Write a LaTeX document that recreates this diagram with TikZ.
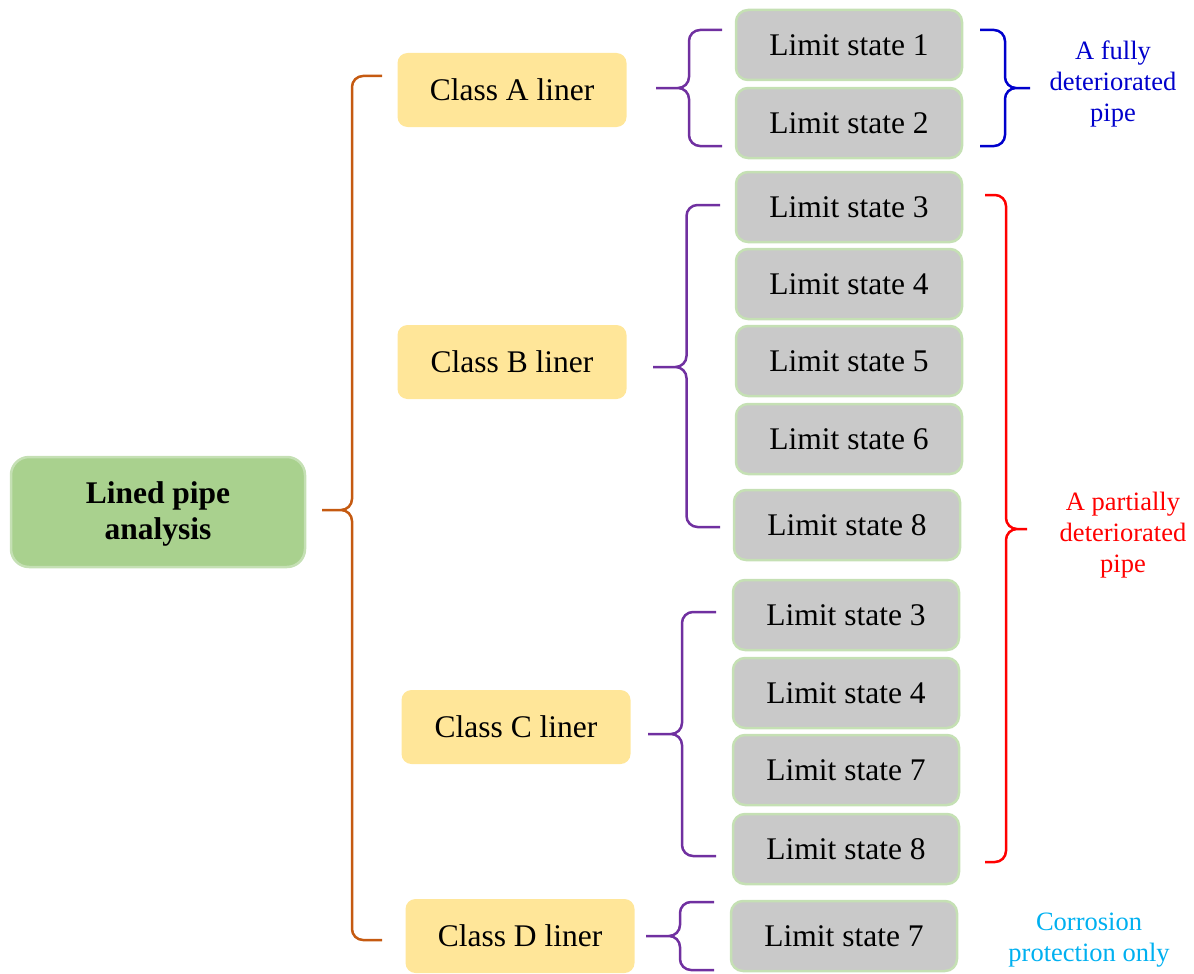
\documentclass[tikz,border=0pt]{standalone}
\usepackage{fontspec}
\setmainfont{Liberation Serif}
\usetikzlibrary{calc}
\definecolor{RootGreen}{HTML}{A9D18E}
\definecolor{LeafGreen}{HTML}{C5E0B4}
\definecolor{ClassGold}{HTML}{FFE699}
\definecolor{StateGray}{HTML}{C9C9C9}
\definecolor{BraceOrange}{HTML}{C55A11}
\definecolor{BracePurple}{HTML}{7030A0}
\definecolor{NoteBlue}{HTML}{0000CC}
\definecolor{NoteRed}{HTML}{FF0000}
\definecolor{NoteCyan}{HTML}{00B0F0}
% brace: tip, upper end, lower end
\def\wordbrace[#1](#2)(#3)(#4){\draw[#1] let \p1=(#2),\p2=(#3),\p3=(#4) in (\p2) -- ({(\x1+\x2)/2},\y2) -- ({(\x1+\x2)/2},\y1) -- (\p1) (\p3) -- ({(\x1+\x2)/2},\y3) -- ({(\x1+\x2)/2},\y1) -- (\p1);}
\tikzset{
  rootbox/.style={draw=LeafGreen, line width=2.5pt, fill=RootGreen, rounded corners=18pt, minimum width=294pt, minimum height=110pt, align=center, font=\bfseries\fontsize{31.5}{36}\selectfont},
  classbox/.style={fill=ClassGold, rounded corners=10pt, minimum width=229pt, minimum height=74pt, font=\fontsize{31.5}{36}\selectfont},
  statebox/.style={draw=LeafGreen, line width=2.5pt, fill=StateGray, rounded corners=12pt, minimum width=226pt, minimum height=70pt, font=\fontsize{31.5}{36}\selectfont},
  notetext/.style={align=center, font=\fontsize{26.5}{31}\selectfont},
  bracestyle/.style={line width=2.5pt, rounded corners=11pt}
}
\begin{document}
\begin{tikzpicture}[x=1pt,y=-1pt]
			%%%%% START %%%%%
			\useasboundingbox (0,0) rectangle (1194,974);
			
			\node[rootbox] (root) at (158, 512) {};
			\node[font=\bfseries\fontsize{31.5}{36}\selectfont, align=center] (rootText) at (158, 514) {Lined pipe\\analysis};
			
			\node[classbox] (clsA) at (512, 90) {Class A liner};
			\node[classbox] (clsB) at (512, 362) {Class B liner};
			\node[classbox] (clsC) at (516, 727) {Class C liner};
			\node[classbox] (clsD) at (520, 936) {Class D liner};
			
			\node[statebox] (lsA1) at (849, 45) {Limit state 1};
			\node[statebox] (lsA2) at (849, 123) {Limit state 2};
			
			\node[statebox] (lsB3) at (849, 207) {Limit state 3};
			\node[statebox] (lsB4) at (849, 284) {Limit state 4};
			\node[statebox] (lsB5) at (849, 361) {Limit state 5};
			\node[statebox] (lsB6) at (849, 439) {Limit state 6};
			\node[statebox] (lsB8) at (847, 525) {Limit state 8};
			
			\node[statebox] (lsC3) at (846, 615) {Limit state 3};
			\node[statebox] (lsC4) at (846, 693) {Limit state 4};
			\node[statebox] (lsC7) at (846, 770) {Limit state 7};
			\node[statebox] (lsC8) at (846, 849) {Limit state 8};
			
			\node[statebox] (lsD7) at (844, 936) {Limit state 7};
			
			\node[notetext, text=NoteBlue] (noteFull) at (1113, 84) {A fully\\deteriorated\\pipe};
			\node[notetext, text=NoteRed] (notePart) at (1123, 535) {A partially\\deteriorated\\pipe};
			\node[notetext, text=NoteCyan] (noteCorr) at (1089, 940) {Corrosion\\protection only};
			
			% brace ends
			\coordinate (rootTip) at (322, 510);
			\coordinate (rootTop) at (382, 76);
			\coordinate (rootBot) at (382, 940);
			
			\coordinate (aTip) at (656, 88);
			\coordinate (aTop) at (722, 30);
			\coordinate (aBot) at (722, 146);
			
			\coordinate (bTip) at (653, 367);
			\coordinate (bTop) at (720, 205);
			\coordinate (bBot) at (720, 527);
			
			\coordinate (cTip) at (648, 734);
			\coordinate (cTop) at (716, 612);
			\coordinate (cBot) at (716, 856);
			
			\coordinate (dTip) at (646, 936);
			\coordinate (dTop) at (714, 902);
			\coordinate (dBot) at (714, 970);
			
			\coordinate (fullTip) at (1030, 88);
			\coordinate (fullTop) at (980, 30);
			\coordinate (fullBot) at (980, 146);
			
			\coordinate (partTip) at (1027, 529);
			\coordinate (partTop) at (985, 195);
			\coordinate (partBot) at (985, 862);
			
			\wordbrace[bracestyle, color=BraceOrange](rootTip)(rootTop)(rootBot)
			\wordbrace[bracestyle, color=BracePurple](aTip)(aTop)(aBot)
			\wordbrace[bracestyle, color=BracePurple](bTip)(bTop)(bBot)
			\wordbrace[bracestyle, color=BracePurple](cTip)(cTop)(cBot)
			\wordbrace[bracestyle, color=BracePurple](dTip)(dTop)(dBot)
			\wordbrace[bracestyle, color=NoteBlue](fullTip)(fullTop)(fullBot)
			\wordbrace[bracestyle, color=NoteRed](partTip)(partTop)(partBot)
			
			%%%%% END %%%%%
\end{tikzpicture}
\end{document}
